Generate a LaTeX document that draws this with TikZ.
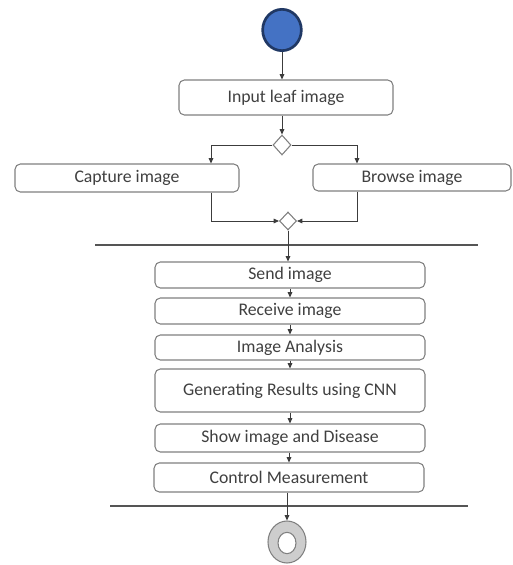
\documentclass[tikz,border=0pt]{standalone}
\usepackage{fontspec}
\setmainfont{Carlito}
\usetikzlibrary{shapes.geometric,arrows.meta}
\definecolor{boxline}{RGB}{128,128,128}
\definecolor{txt}{RGB}{64,64,64}
\definecolor{conn}{RGB}{60,60,60}
\definecolor{startfill}{RGB}{68,114,196}
\definecolor{startline}{RGB}{32,56,100}
\definecolor{endfill}{RGB}{205,205,205}
\definecolor{barcol}{RGB}{85,85,85}
\tikzset{
  act/.style={draw=boxline, line width=0.8pt, rounded corners=4pt, fill=white,
    inner sep=0pt, text=txt, font=\fontsize{13.3}{16}\selectfont},
  dec/.style={diamond, draw=boxline, line width=0.8pt, fill=white, inner sep=0pt,
    minimum width=13.5pt, minimum height=15pt},
  barbox/.style={rectangle, fill=barcol, inner sep=0pt, minimum height=2.2pt},
  arr/.style={draw=conn, line width=0.6pt, -{Triangle[length=4pt,width=3.5pt]}},
  ln/.style={draw=conn, line width=0.6pt}
}
\begin{document}
\begin{tikzpicture}[x=0.75pt,y=-0.75pt]
\useasboundingbox (0,0) rectangle (513,565);
% start
\node[ellipse, draw=startline, line width=2pt, fill=startfill, minimum width=29pt, minimum height=31pt, inner sep=0pt] (start) at (282,30) {};
\node[act, minimum width=160.5pt, minimum height=26.25pt] (in) at (286,97.5) {Input leaf image};
\node[dec] (d1) at (282,145) {};
\node[act, minimum width=168pt, minimum height=21pt] (cap) at (127,178) {Capture image};
\node[act, minimum width=148.5pt, minimum height=20.25pt] (br) at (412,177.5) {Browse image};
\node[dec, minimum width=12.75pt, minimum height=13.5pt] (d2) at (288,221) {};
\node[barbox, minimum width=287.25pt] (bar1) at (286.5,245) {};
\node[act, minimum width=202.5pt, minimum height=19.5pt] (send) at (290,275) {Send image};
\node[act, minimum width=202.5pt, minimum height=19.5pt] (rec) at (290,311) {Receive image};
\node[act, minimum width=202.5pt, minimum height=18.75pt] (ana) at (290,347.5) {Image Analysis};
\node[act, minimum width=202.5pt, minimum height=32.25pt] (gen) at (290,390.5) {Generating Results using CNN};
\node[act, minimum width=202.5pt, minimum height=21pt] (show) at (290,438) {Show image and Disease};
\node[act, minimum width=202.5pt, minimum height=21.75pt] (ctrl) at (289,477.5) {Control Measurement};
\node[barbox, minimum width=268.5pt] (bar2) at (289,506) {};
\node[ellipse, draw=boxline, line width=0.8pt, fill=endfill, minimum width=28.5pt, minimum height=31.5pt, inner sep=0pt] (end) at (287,542) {};
\node[ellipse, draw=boxline, line width=0.8pt, fill=white, minimum width=13.5pt, minimum height=16pt, inner sep=0pt] (endin) at (287,543) {};
% helper x positions
\coordinate (lx) at (211,0);
\coordinate (rx) at (357,0);
% connectors
\draw[arr] (start) -- (start |- in.north);
\draw[arr] (d1 |- in.south) -- (d1.north);
\draw[arr] (d1.west) -| (cap.north -| lx);
\draw[arr] (d1.east) -| (br.north -| rx);
\draw[arr] (cap.south -| lx) |- (d2.west);
\draw[arr] (br.south -| rx) |- (d2.east);
\draw[arr] (d2.south) -- (d2 |- send.north);
\draw[arr] (send.south) -- (rec.north);
\draw[arr] (rec.south) -- (ana.north);
\draw[arr] (ana.south) -- (gen.north);
\draw[arr] (gen.south) -- (show.north);
\draw[arr] (show.south -| ctrl) -- (ctrl.north);
\draw[arr] (ctrl.south -| end) -- (end.north);
\end{tikzpicture}
\end{document}
